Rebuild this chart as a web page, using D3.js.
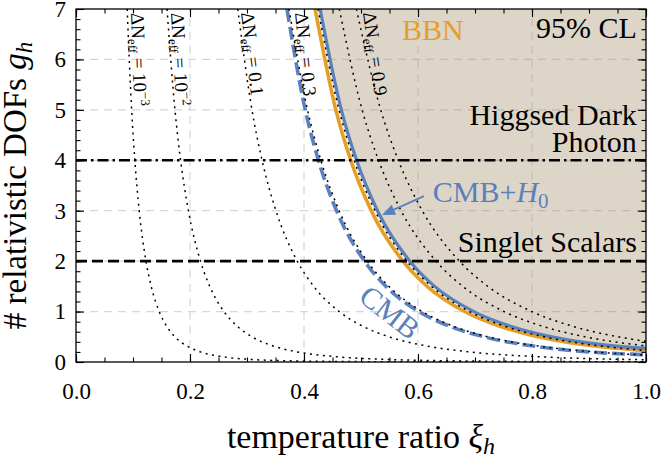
<!DOCTYPE html>
<html>
<head>
<meta charset="utf-8">
<script src="https://cdn.jsdelivr.net/npm/d3@7"></script>
<style>
  body { margin: 0; background: #fff; }
  svg text { font-family: "Liberation Serif", "Times New Roman", Times, "DejaVu Serif", serif; }
</style>
</head>
<body>
<svg id="Viz"></svg>
<script>
width = 666,
height = 458;

var serif = '"Liberation Serif", "Times New Roman", Times, "DejaVu Serif", serif';

// tick values
var xiTicks = [0, 0.2, 0.4, 0.6, 0.8, 1.0];
var gTicks = [0, 1, 2, 3, 4, 5, 6, 7];
var xiGrid = [0.2, 0.4, 0.6, 0.8];
var gGrid = [1, 2, 3, 4, 5, 6];

// dotted Delta N_eff contours, [xi, g]
var dN0001 = [[0.0898,7],[0.0976,5],[0.1032,4],[0.1109,3],[0.1228,2],[0.1319,1.5],[0.1460,1],[0.1596,0.7],[0.1736,0.5],[0.1973,0.3],[0.2183,0.2],[0.2596,0.1],[0.3087,0.05],[0.3882,0.02],[0.4617,0.01],[0.5490,0.005],[0.6903,0.002],[0.8209,0.001],[1,0.00045]];
var dN001 = [[0.1597,7],[0.1736,5],[0.1835,4],[0.1972,3],[0.2184,2],[0.2346,1.5],[0.2596,1],[0.2838,0.7],[0.3087,0.5],[0.3509,0.3],[0.3882,0.2],[0.4616,0.1],[0.5490,0.05],[0.6903,0.02],[0.8210,0.01],[1,0.0045]];
var dN01 = [[0.2838,7],[0.3087,5],[0.3264,4],[0.3508,3],[0.3882,2],[0.4171,1.5],[0.4617,1],[0.5047,0.7],[0.5490,0.5],[0.6239,0.3],[0.6903,0.2],[0.8209,0.1],[1,0.045]];
var dN03 = [[0.3737,7],[0.4062,5],[0.4296,4],[0.4617,3],[0.5109,2],[0.5490,1.5],[0.6076,1],[0.6642,0.7],[0.7225,0.5],[0.8211,0.3],[0.9085,0.2],[1,0.136]];
var dN05 = [[0.4246,7],[0.4615,5],[0.4880,4],[0.5246,3],[0.5805,2],[0.6237,1.5],[0.6904,1],[0.7547,0.7],[0.8209,0.5],[0.9330,0.3],[1,0.227]];
var dN07 = [[0.4619,7],[0.5020,5],[0.5308,4],[0.5704,3],[0.6316,2],[0.6785,1.5],[0.7510,1],[0.8209,0.7],[0.8930,0.5],[1,0.318]];
var dN09 = [[0.4919,7],[0.5346,5],[0.5654,4],[0.6076,3],[0.6726,2],[0.7225,1.5],[0.7997,1],[0.8742,0.7],[0.9509,0.5],[1,0.409]];

// bounds
var bbn = [[0.4194,7],[0.4558,5],[0.4819,4],[0.5179,3],[0.5735,2],[0.6160,1.5],[0.6818,1],[0.7453,0.7],[0.8107,0.5],[0.9214,0.3],[1,0.225]];
var cmbH0 = [[0.4283,7],[0.4655,5],[0.4923,4],[0.5290,3],[0.5856,2],[0.6292,1.5],[0.6980,1],[0.7652,0.7],[0.8350,0.5],[0.9193,0.35],[1,0.27]];
var cmb = [[0.3701,7],[0.4022,5],[0.4253,4],[0.4571,3],[0.5061,2],[0.5436,1.5],[0.6016,1],[0.6577,0.7],[0.7154,0.5],[0.8131,0.3],[0.8996,0.2],[1,0.145]];

// model lines
var higgsedLevel = 4;
var singletLevel = 2;

var orange = "#e59e26", blue = "#5a80bd", beige = "#ddd6c8";

function first() {
  var svg = d3.select("#Viz").attr("width", width).attr("height", height);

  var x = d3.scaleLinear().domain([0, 1]).range([76, 646]);
  var y = d3.scaleLinear().domain([0, 7]).range([362, 9]);

  svg.append("defs").append("clipPath").attr("id", "clip")
    .append("rect").attr("x", x(0)).attr("y", y(7))
    .attr("width", x(1) - x(0)).attr("height", y(0) - y(7));

  var line = d3.line().x(d => x(d[0])).y(d => y(d[1])).curve(d3.curveMonotoneX);
  var plot = svg.append("g").attr("clip-path", "url(#clip)");

  // shaded excluded region
  var corner = "L" + x(1) + "," + y(7) + "Z";
  plot.append("path").attr("d", line(bbn) + corner).attr("fill", "#f6eedd");
  plot.append("path").attr("d", line(cmbH0) + corner).attr("fill", beige);

  // grid
  plot.selectAll(".gx").data(xiGrid).enter().append("line")
    .attr("x1", d => x(d)).attr("x2", d => x(d)).attr("y1", y(0)).attr("y2", y(7))
    .style("stroke", "rgba(140,140,140,0.35)").style("stroke-width", 1.2).style("stroke-dasharray", "8,6");
  plot.selectAll(".gy").data(gGrid).enter().append("line")
    .attr("x1", x(0)).attr("x2", x(1)).attr("y1", d => y(d)).attr("y2", d => y(d))
    .style("stroke", "rgba(140,140,140,0.35)").style("stroke-width", 1.2).style("stroke-dasharray", "8,6");

  // bounds
  plot.append("path").attr("d", line(bbn)).attr("fill", "none")
    .style("stroke", orange).style("stroke-width", 3.5);
  plot.append("path").attr("d", line(cmbH0)).attr("fill", "none")
    .style("stroke", blue).style("stroke-width", 3.2);
  plot.append("path").attr("d", line(cmb)).attr("fill", "none")
    .style("stroke", blue).style("stroke-width", 3.6).style("stroke-dasharray", "13,5");

  // contours
  plot.selectAll(".dn").data([dN0001, dN001, dN01, dN03, dN05, dN07, dN09]).enter()
    .append("path").attr("d", d => line(d)).attr("fill", "none")
    .style("stroke", "black").style("stroke-width", 1.5).style("stroke-dasharray", "2,4.5");

  // model levels
  plot.append("line").attr("x1", x(0)).attr("x2", x(1))
    .attr("y1", y(higgsedLevel)).attr("y2", y(higgsedLevel))
    .style("stroke", "black").style("stroke-width", 2.6).style("stroke-dasharray", "11,4,2.5,4");
  plot.append("line").attr("x1", x(0)).attr("x2", x(1))
    .attr("y1", y(singletLevel)).attr("y2", y(singletLevel))
    .style("stroke", "black").style("stroke-width", 2.6).style("stroke-dasharray", "11,5");

  // axes, ticks inward
  var xMinor = d3.range(0, 1.0001, 0.05);
  var yMinor = d3.range(0, 7.0001, 0.2);
  function styleAxis(g) {
    g.attr("font-family", serif);
    g.select(".domain").remove();
    g.selectAll("line").style("stroke", "black").style("stroke-width", 1.1);
    g.selectAll("text").style("font-size", "23px").style("fill", "black");
  }
  svg.append("g").attr("transform", "translate(0," + y(0) + ")")
    .call(d3.axisBottom(x).tickValues(xMinor).tickSize(-4.5).tickFormat("")).call(styleAxis);
  svg.append("g").attr("transform", "translate(0," + y(0) + ")")
    .call(d3.axisBottom(x).tickValues(xiTicks).tickSize(-8).tickPadding(21).tickFormat(d3.format(".1f"))).call(styleAxis);
  svg.append("g").attr("transform", "translate(0," + y(7) + ")")
    .call(d3.axisTop(x).tickValues(xMinor).tickSize(-4.5).tickFormat("")).call(styleAxis);
  svg.append("g").attr("transform", "translate(0," + y(7) + ")")
    .call(d3.axisTop(x).tickValues(xiTicks).tickSize(-8).tickFormat("")).call(styleAxis);
  svg.append("g").attr("transform", "translate(" + x(0) + ",0)")
    .call(d3.axisLeft(y).tickValues(yMinor).tickSize(-4.5).tickFormat("")).call(styleAxis);
  svg.append("g").attr("transform", "translate(" + x(0) + ",0)")
    .call(d3.axisLeft(y).tickValues(gTicks).tickSize(-8).tickPadding(10).tickFormat(d3.format("d"))).call(styleAxis);
  svg.append("g").attr("transform", "translate(" + x(1) + ",0)")
    .call(d3.axisRight(y).tickValues(yMinor).tickSize(-4.5).tickFormat("")).call(styleAxis);
  svg.append("g").attr("transform", "translate(" + x(1) + ",0)")
    .call(d3.axisRight(y).tickValues(gTicks).tickSize(-8).tickFormat("")).call(styleAxis);

  // frame
  svg.append("rect").attr("x", x(0)).attr("y", y(7))
    .attr("width", x(1) - x(0)).attr("height", y(0) - y(7))
    .attr("fill", "none").style("stroke", "black").style("stroke-width", 1.3);

  // axis titles
  var xt = svg.append("text").attr("x", (x(0) + x(1)) / 2).attr("y", 448)
    .attr("text-anchor", "middle").style("font-size", "34px");
  xt.append("tspan").text("temperature ratio ");
  xt.append("tspan").style("font-style", "italic").text("ξ");
  xt.append("tspan").style("font-style", "italic").style("font-size", "24px").attr("dy", 6).text("h");

  var yt = svg.append("text").attr("transform", "translate(26," + (y(0) + y(7)) / 2 + ") rotate(-90)")
    .attr("text-anchor", "middle").style("font-size", "33px");
  yt.append("tspan").text("# relativistic DOFs ");
  yt.append("tspan").style("font-style", "italic").text("g");
  yt.append("tspan").style("font-style", "italic").style("font-size", "23px").attr("dy", 6).text("h");

  // annotations
  svg.append("text").attr("x", x(0.572)).attr("y", y(6.385))
    .style("font-size", "30px").style("fill", orange).text("BBN");
  svg.append("text").attr("x", x(0.984)).attr("y", y(6.425)).attr("text-anchor", "end")
    .style("font-size", "30px").text("95% CL");
  svg.append("text").attr("x", x(0.984)).attr("y", y(4.70)).attr("text-anchor", "end")
    .style("font-size", "30px").text("Higgsed Dark");
  svg.append("text").attr("x", x(0.984)).attr("y", y(4.164)).attr("text-anchor", "end")
    .style("font-size", "30px").text("Photon");
  svg.append("text").attr("x", x(0.984)).attr("y", y(2.18)).attr("text-anchor", "end")
    .style("font-size", "30px").text("Singlet Scalars");

  var ch = svg.append("text").attr("x", x(0.626)).attr("y", y(3.17))
    .style("font-size", "30px").style("fill", blue);
  ch.append("tspan").text("CMB+");
  ch.append("tspan").style("font-style", "italic").text("H");
  ch.append("tspan").style("font-size", "21px").attr("dy", 6).text("0");

  // arrow to CMB+H0 line
  var a0 = [x(0.6105), y(3.29)], a1 = [x(0.537), y(2.915)];
  var ang = Math.atan2(a1[1] - a0[1], a1[0] - a0[0]);
  var hl = 13, hw = 5.5;
  var bx = a1[0] - hl * Math.cos(ang), by = a1[1] - hl * Math.sin(ang);
  svg.append("line").attr("x1", a0[0]).attr("y1", a0[1]).attr("x2", bx).attr("y2", by)
    .style("stroke", blue).style("stroke-width", 1.8);
  svg.append("path")
    .attr("d", "M" + a1[0] + "," + a1[1] +
      "L" + (bx + hw * Math.sin(ang)) + "," + (by - hw * Math.cos(ang)) +
      "L" + (bx - hw * Math.sin(ang)) + "," + (by + hw * Math.cos(ang)) + "Z")
    .attr("fill", blue);

  svg.append("text").attr("transform", "translate(" + x(0.551) + "," + y(0.99) + ") rotate(38)")
    .attr("text-anchor", "middle").attr("dominant-baseline", "central")
    .style("font-size", "30px").style("fill", blue).text("CMB");

  // Delta N_eff labels
  var dnLabels = [
    { xi: 0.0965, ang: 88, val: "10", sup: "−3" },
    { xi: 0.1667, ang: 87, val: "10", sup: "−2" },
    { xi: 0.2895, ang: 83, val: "0.1", sup: "" },
    { xi: 0.3842, ang: 84, val: "0.3", sup: "" },
    { xi: 0.5035, ang: 82, val: "0.9", sup: "" }
  ];
  dnLabels.forEach(function(l) {
    var t = svg.append("text")
      .attr("transform", "translate(" + x(l.xi) + "," + y(6.92) + ") rotate(" + l.ang + ")")
      .style("font-size", "19px");
    t.append("tspan").text("ΔN");
    t.append("tspan").style("font-size", "13px").attr("dy", 4).text("eff");
    t.append("tspan").attr("dy", -4).text(" = " + l.val);
    if (l.sup) t.append("tspan").style("font-size", "13px").attr("dy", -7).text(l.sup);
  });
}

document.addEventListener('DOMContentLoaded', () => {
  first();
});
</script>
</body>
</html>
